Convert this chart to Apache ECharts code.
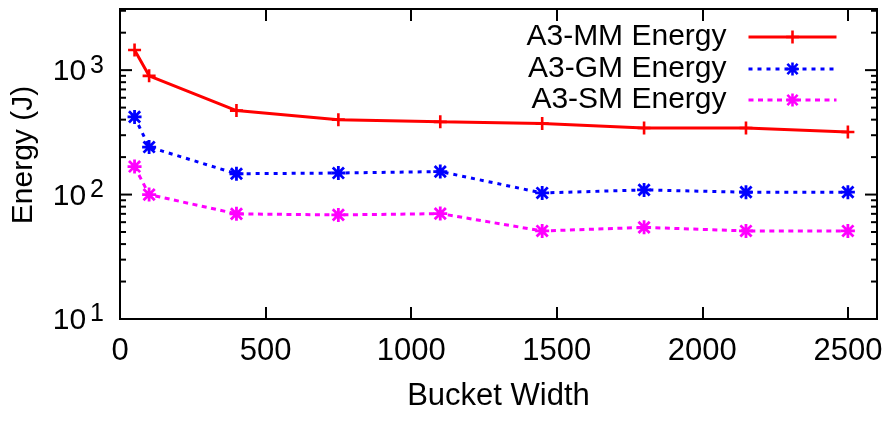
<!DOCTYPE html>
<html><head><meta charset="utf-8">
<script src="https://cdn.jsdelivr.net/npm/echarts@6/dist/echarts.min.js"></script>
<style>html,body{margin:0;padding:0;background:#fff}#c{width:893px;height:422px}</style>
</head><body><div id="c"></div>
<script>
// ---- data ----
const bucketWidths = [50, 100, 400, 750, 1100, 1450, 1800, 2150, 2500];
const mmEnergy = [1450, 900, 473, 400, 384, 372, 343, 343, 318];
const gmEnergy = [421, 241, 147, 149, 153, 103, 109, 104.5, 104.5];
const smEnergy = [168, 100, 70, 68.6, 70.3, 51, 54.5, 51, 51];
const seriesNames = ['A3-MM Energy', 'A3-GM Energy', 'A3-SM Energy'];
const xTickLabels = [0, 500, 1000, 1500, 2000, 2500];
const yMajorTicks = [10, 100, 1000];
const yMinorTicks = [20, 30, 40, 50, 60, 70, 80, 90, 200, 300, 400, 500, 600, 700, 800, 900, 2000, 3000];
const xTitle = 'Bucket Width';
const yTitle = 'Energy (J)';
const xMin = 0, xMax = 2600, yMin = 10, yMax = 3100;

// ---- symbols ----
const plusPath = 'path://M40,0L60,0L60,100L40,100ZM0,40L100,40L100,60L0,60Z';
const starPath = 'path://M40,0L60,0L60,100L40,100ZM0,40L100,40L100,60L0,60ZM17,3L97,83L83,97L3,17ZM83,3L97,17L17,97L3,83Z';

const pairs = arr => bucketWidths.map((x, i) => [x, arr[i]]);
const tickItems = yMajorTicks.map(v => [0, v, 1]).concat(yMinorTicks.map(v => [0, v, 0]));

const FONT = 'Liberation Sans';
const chart = echarts.init(document.getElementById('c'), null, {renderer: 'canvas'});

function legendFor(name, top) {
  return {
    data: [name], orient: 'vertical', right: 55, top: top, padding: 0,
    itemWidth: 88, itemHeight: 16, align: 'right', selectedMode: false,
    textStyle: {fontFamily: FONT, fontSize: 30, color: '#000', padding: [0, 17, 0, 0]},
    lineStyle: {width: 3}
  };
}

const option = {
  animation: false,
  backgroundColor: '#fff',
  grid: {left: 120, right: 16, top: 9, bottom: 103, show: true, borderColor: '#000', borderWidth: 2, backgroundColor: 'transparent'},
  legend: [legendFor(seriesNames[0], 22), legendFor(seriesNames[1], 54), legendFor(seriesNames[2], 85)],
  xAxis: [{
    type: 'value', min: xMin, max: xMax, interval: 500, position: 'bottom',
    axisLine: {show: false},
    axisTick: {show: true, inside: true, length: 12, lineStyle: {color: '#000', width: 2}},
    splitLine: {show: false},
    axisLabel: {
      fontFamily: FONT, fontSize: 31, color: '#000', margin: 17,
      formatter: v => (xTickLabels.indexOf(v) >= 0 ? String(v) : '')
    },
    name: xTitle, nameLocation: 'middle', nameGap: 62,
    nameTextStyle: {fontFamily: FONT, fontSize: 31, color: '#000'}
  }, {
    type: 'value', min: xMin, max: xMax, interval: 500, position: 'top',
    axisLine: {show: false},
    axisTick: {show: true, inside: true, length: 12, lineStyle: {color: '#000', width: 2}},
    splitLine: {show: false}, axisLabel: {show: false}
  }],
  yAxis: {
    type: 'log', logBase: 10, min: yMin, max: yMax,
    axisLine: {show: false}, axisTick: {show: false}, splitLine: {show: false},
    axisLabel: {
      margin: 16,
      formatter: v => {
        const e = Math.log10(v);
        if (Math.abs(e - Math.round(e)) < 1e-6) return '{b|10}{s|' + Math.round(e) + '}';
        return '';
      },
      rich: {
        b: {fontFamily: FONT, fontSize: 30, color: '#000', padding: [4, 0, 0, 0]},
        s: {fontFamily: FONT, fontSize: 25, color: '#000', verticalAlign: 'top', padding: [0, 0, 0, 4]}
      }
    },
    name: yTitle, nameLocation: 'middle', nameGap: 81,
    nameTextStyle: {fontFamily: FONT, fontSize: 30, color: '#000', padding: [0, 0, 0, 18]}
  },
  series: [
    {
      name: seriesNames[0], type: 'line', data: pairs(mmEnergy),
      symbol: plusPath, symbolSize: 13, showSymbol: true,
      itemStyle: {color: '#ff0000'}, lineStyle: {color: '#ff0000', width: 3, type: 'solid'},
      emphasis: {disabled: true}
    },
    {
      name: seriesNames[1], type: 'line', data: pairs(gmEnergy),
      symbol: starPath, symbolSize: 14, showSymbol: true,
      itemStyle: {color: '#0000ff'}, lineStyle: {color: '#0000ff', width: 3, type: [4, 5]},
      emphasis: {disabled: true}
    },
    {
      name: seriesNames[2], type: 'line', data: pairs(smEnergy),
      symbol: starPath, symbolSize: 14, showSymbol: true,
      itemStyle: {color: '#ff00ff'}, lineStyle: {color: '#ff00ff', width: 3, type: [5, 4.5]},
      emphasis: {disabled: true}
    },
    {
      type: 'custom', silent: true, clip: false, z: 10,
      data: tickItems,
      renderItem: (params, api) => {
        const v = api.value(1);
        const len = api.value(2) ? 12 : 6;
        const pL = api.coord([xMin, v]);
        const pR = api.coord([xMax, v]);
        return {
          type: 'group',
          children: [
            {type: 'line', shape: {x1: pL[0], y1: pL[1], x2: pL[0] + len, y2: pL[1]}, style: {stroke: '#000', lineWidth: 2}},
            {type: 'line', shape: {x1: pR[0] - len, y1: pR[1], x2: pR[0], y2: pR[1]}, style: {stroke: '#000', lineWidth: 2}}
          ]
        };
      }
    }
  ]
};
chart.setOption(option);
</script>
</body></html>
